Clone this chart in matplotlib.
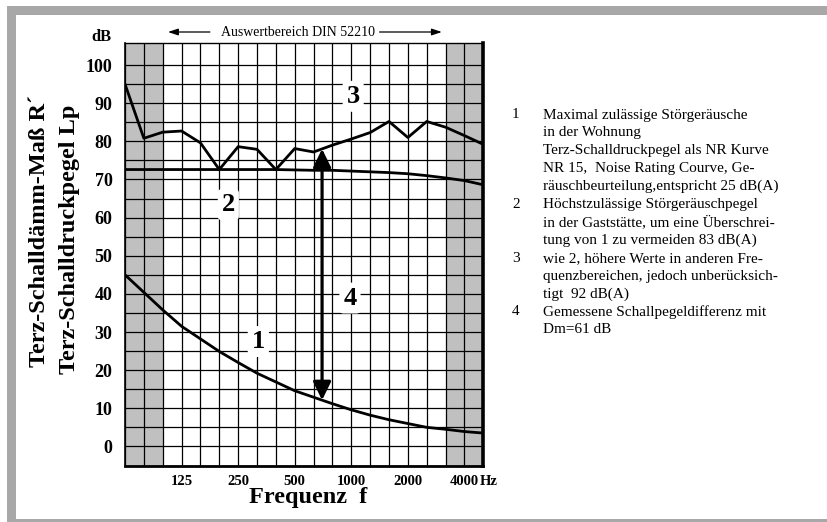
import numpy as np
import matplotlib.pyplot as plt
from matplotlib import transforms
from matplotlib.patches import Rectangle

plt.rcParams['font.family'] = ['Liberation Serif', 'DejaVu Serif']

# third-octave bands (one grid column each)
bands = [63, 80, 100, 125, 160, 200, 250, 315, 400, 500, 630, 800,
         1000, 1250, 1600, 2000, 2500, 3150, 4000, 5000]
tick_bands = [125, 250, 500, 1000, 2000, 4000]

# 1: NR 15 curve
nr15 = [45, 40.4, 35.8, 31.5, 28.2, 24.9, 22.0, 19.2, 16.9, 14.6,
        12.9, 11.2, 9.6, 8.2, 7.0, 6.0, 5.0, 4.5, 3.9, 3.5]
# 2: hoechstzulaessiger Stoergeraeuschpegel Gaststaette
gast_max = [72.6, 72.6, 72.6, 72.6, 72.6, 72.6, 72.6, 72.6, 72.6, 72.5,
            72.4, 72.4, 72.2, 72.0, 71.8, 71.5, 71.0, 70.4, 69.7, 68.6]
# 3: hoehere Werte
gast_hoch = [95, 80.8, 82.4, 82.7, 79.6, 72.6, 78.6, 77.9, 72.6, 78.1,
             77.2, 79.0, 80.6, 82.3, 85.2, 81.0, 85.2, 83.7, 81.5, 79.2]
arrow_band = 10.45   # Dm arrow position (band index)

legend_items = [
    ("1", ["Maximal zulässige Störgeräusche",
           "in der Wohnung",
           "Terz-Schalldruckpegel als NR Kurve",
           "NR 15,  Noise Rating Courve, Ge-",
           "räuschbeurteilung,entspricht 25 dB(A)"]),
    ("2", ["Höchstzulässige Störgeräuschpegel",
           "in der Gaststätte, um eine Überschrei-",
           "tung von 1 zu vermeiden 83 dB(A)"]),
    ("3", ["wie 2, höhere Werte in anderen Fre-",
           "quenzbereichen, jedoch unberücksich-",
           "tigt  92 dB(A)"]),
    ("4", ["Gemessene Schallpegeldifferenz mit",
           "Dm=61 dB"]),
]

x = np.arange(len(bands))

fig = plt.figure(figsize=(8.27, 5.22), dpi=100)
ax = fig.add_axes([125 / 827, 1 - 465.5 / 522, 358.3 / 827, 422.2 / 522])

# grey outer frame
grey = '#a8a8a8'
for r in [(7, 6, 820, 9), (7, 6, 9, 514), (7, 519, 820, 3)]:
    fig.patches.append(Rectangle((r[0] / 827, 1 - (r[1] + r[3]) / 522),
                                 r[2] / 827, r[3] / 522, transform=fig.transFigure,
                                 fc=grey, ec='none', zorder=0))

# grey columns outside the evaluation range
ax.axvspan(0, 2, color='#c0c0c0', zorder=0, lw=0)
ax.axvspan(17, 19, color='#c0c0c0', zorder=0, lw=0)

ax.plot(x, nr15, color='black', lw=2, zorder=3)
ax.plot(x, gast_max, color='black', lw=2, zorder=3)
ax.plot(x, gast_hoch, color='black', lw=2, zorder=3)

# measured level difference
y_top = np.interp(arrow_band, x, gast_hoch)
y_bot = np.interp(arrow_band, x, nr15)
ax.annotate('', xy=(arrow_band, y_top), xytext=(arrow_band, y_bot),
            arrowprops=dict(arrowstyle='<|-|>,head_length=0.55,head_width=0.27',
                            mutation_scale=20, lw=2.3, color='black',
                            shrinkA=0, shrinkB=0), zorder=4)

for lab, lx, ly in [("1", 7.07, 27.5), ("2", 5.48, 63.4),
                    ("3", 12.1, 91.8), ("4", 11.93, 38.9)]:
    ax.text(lx, ly, lab, ha='center', va='center', fontsize=19, fontweight='bold',
            bbox=dict(boxstyle='round,pad=0.15', fc='white', ec='none'), zorder=5)

ax.set_xlim(0, 19)
ax.set_ylim(-5, 105.7)
ax.set_xticks([bands.index(b) for b in tick_bands])
ax.set_xticklabels([str(b) for b in tick_bands], fontsize=10.5, fontweight='bold')
ax.set_xticks(x, minor=True)
ax.set_yticks(np.arange(0, 101, 10))
ax.set_yticklabels([str(v) for v in range(0, 101, 10)], fontsize=13, fontweight='bold')
ax.set_yticks(np.arange(-5, 101, 5), minor=True)
ax.tick_params(which='both', length=0)
ax.tick_params(axis='y', pad=9)
ax.tick_params(axis='x', pad=7)
ax.grid(which='both', color='black', lw=0.9)

ax.spines['left'].set_linewidth(1.2)
ax.spines['top'].set_linewidth(1.0)
ax.spines['bottom'].set_linewidth(2.0)
ax.spines['right'].set_linewidth(2.6)

tr = transforms.blended_transform_factory(ax.transData, ax.transAxes)
ax.text(18.8, -0.0225, 'Hz', transform=tr, ha='left', va='top',
        fontsize=10.5, fontweight='bold')

# labels
fig.text(101 / 827, 1 - 37 / 522, 'dB', ha='center', va='center',
         fontsize=12, fontweight='bold')
fig.text(40 / 827, 1 - 231 / 522, 'Terz-Schalldämm-Maß R´', rotation=90,
         ha='center', va='center', fontsize=17.5, fontweight='bold')
fig.text(70 / 827, 1 - 239 / 522, 'Terz-Schalldruckpegel Lp', rotation=90,
         ha='center', va='center', fontsize=17.5, fontweight='bold')
fig.text(308 / 827, 1 - 498 / 522, 'Frequenz  f', ha='center', va='center',
         fontsize=17.5, fontweight='bold')

# evaluation range above the chart
trf = transforms.blended_transform_factory(ax.transData, fig.transFigure)
yf = 1 - 32 / 522
ax.text(9.2, yf, 'Auswertbereich DIN 52210', transform=trf, ha='center',
        va='center', fontsize=10)
arw = dict(arrowstyle='-|>,head_length=0.6,head_width=0.2', mutation_scale=10,
           lw=0.9, color='black', shrinkA=0, shrinkB=0)
ax.annotate('', xy=(2.28, yf), xytext=(4.5, yf), xycoords=trf, textcoords=trf,
            arrowprops=arw, annotation_clip=False)
ax.annotate('', xy=(16.8, yf), xytext=(13.5, yf), xycoords=trf, textcoords=trf,
            arrowprops=arw, annotation_clip=False)

# legend text on the right
dy = 17.9
row = 0
for num, lines in legend_items:
    fig.text(512 / 827, 1 - (115 + row * dy) / 522, num, ha='left', va='center',
             fontsize=11)
    for line in lines:
        fig.text(543 / 827, 1 - (115 + row * dy) / 522, line, ha='left',
                 va='center', fontsize=11)
        row += 1

fig.savefig('out.png', dpi=100)
